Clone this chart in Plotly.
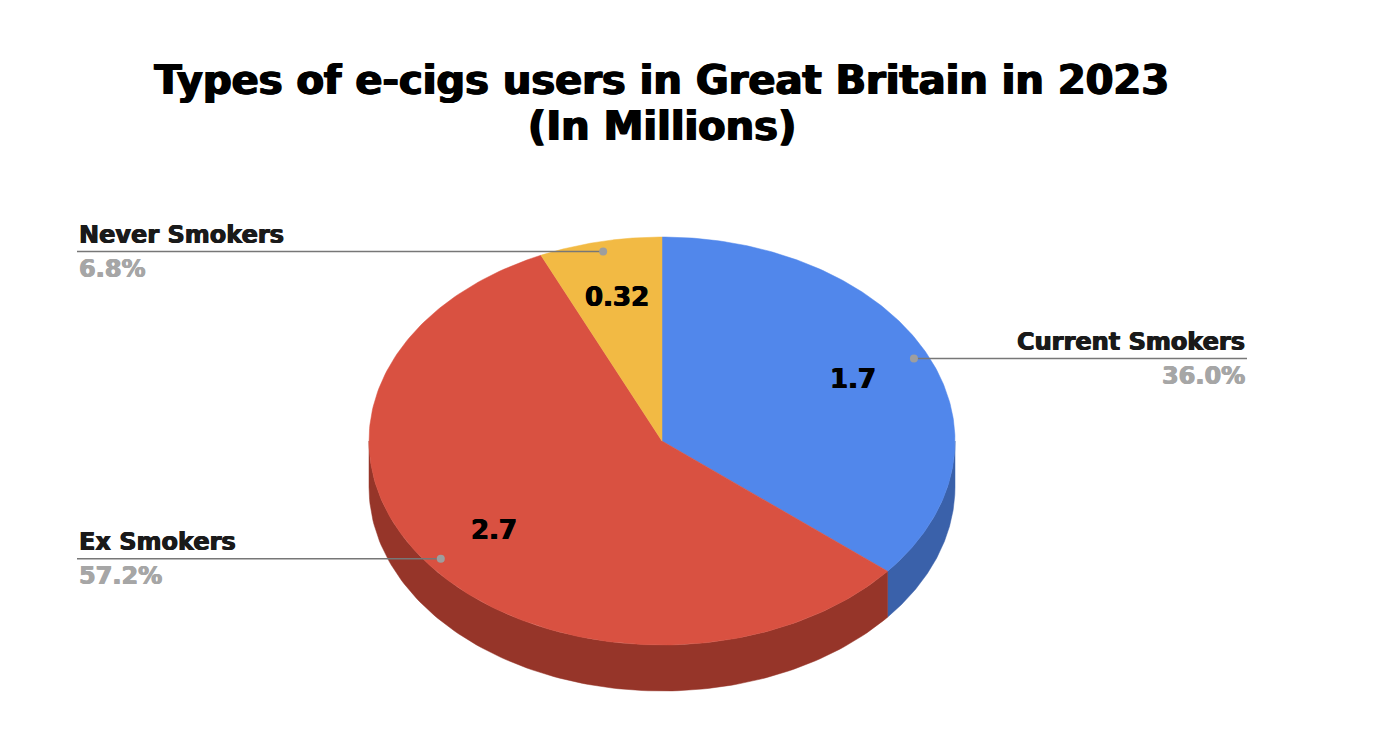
import numpy as np
import plotly.graph_objects as go

# ---- data ----
categories = ["Current Smokers", "Ex Smokers", "Never Smokers"]
values = [1.7, 2.7, 0.32]
value_labels = ["1.7", "2.7", "0.32"]

TOP_COLORS = ["#5187EB", "#D95141", "#F2BA44"]
SIDE_COLORS = ["#3A61AA", "#963529", "#B3862F"]

# ---- 3D pie geometry (pixel space of the page) ----
W, H = 1378, 742
PAD = 8  # body margin of the html page
CX, CY = 662, 441
RX, RY = 293, 204
DEPTH = 46

FONT = "DejaVu Sans"
HEAVY = "0.6px 0 0 {c}, -0.6px 0 0 {c}"
TITLE_SHADOW = "0.9px 0 0 black, -0.9px 0 0 black"

total = sum(values)
fracs = [v / total for v in values]
bounds = np.concatenate([[0], np.cumsum(fracs)]) * 2 * np.pi  # clockwise from 12 o'clock


def ell(theta, f=1.0, dz=0.0):
    return CX + f * RX * np.sin(theta), CY - f * RY * np.cos(theta) + dz


fig = go.Figure()

# side walls first (only the front half, theta in [pi/2, 3pi/2])
for i in range(len(values)):
    a0, a1 = max(bounds[i], np.pi / 2), min(bounds[i + 1], 3 * np.pi / 2)
    if a1 <= a0:
        continue
    t = np.linspace(a0, a1, 120)
    xt, yt = ell(t)
    xb, yb = ell(t[::-1], dz=DEPTH)
    fig.add_trace(go.Scatter(
        x=np.concatenate([xt, xb, xt[:1]]), y=np.concatenate([yt, yb, yt[:1]]),
        mode="lines", fill="toself", fillcolor=SIDE_COLORS[i],
        line=dict(color=SIDE_COLORS[i], width=0.5), hoverinfo="skip", showlegend=False,
    ))

# top faces
for i in range(len(values)):
    t = np.linspace(bounds[i], bounds[i + 1], 200)
    xs, ys = ell(t)
    fig.add_trace(go.Scatter(
        x=np.concatenate([[CX], xs, [CX]]), y=np.concatenate([[CY], ys, [CY]]),
        mode="lines", fill="toself", fillcolor=TOP_COLORS[i],
        line=dict(color=TOP_COLORS[i], width=0.5), hoverinfo="skip", showlegend=False,
    ))

# value labels inside slices, leader lines and outside labels
mids = (bounds[:-1] + bounds[1:]) / 2
annotations = []
for i, cat in enumerate(categories):
    lx, ly = ell(mids[i], f=0.72)
    annotations.append(dict(x=lx, y=ly, text=f"<b>{value_labels[i]}</b>", showarrow=False,
                            font=dict(size=26, color="black", family=FONT,
                                      shadow=HEAVY.format(c="black"))))
    dx, dy = ell(mids[i], f=0.95)
    right = np.sin(mids[i]) > 0
    end_x = 1247 if right else 77
    fig.add_trace(go.Scatter(x=[dx, end_x], y=[dy, dy], mode="lines",
                             line=dict(color="#777777", width=1.5), hoverinfo="skip", showlegend=False))
    fig.add_trace(go.Scatter(x=[dx], y=[dy], mode="markers",
                             marker=dict(color="#9E9E9E", size=8), hoverinfo="skip", showlegend=False))
    anchor = "right" if right else "left"
    annotations.append(dict(x=end_x, y=dy - 1, text=f"<b>{cat}</b>", showarrow=False,
                            xanchor=anchor, yanchor="bottom",
                            font=dict(size=24, color="#1a1a1a", family=FONT,
                                      shadow=HEAVY.format(c="#1a1a1a"))))
    annotations.append(dict(x=end_x, y=dy + 1, text=f"<b>{fracs[i] * 100:.1f}%</b>", showarrow=False,
                            xanchor=anchor, yanchor="top",
                            font=dict(size=24, color="#A6A6A6", family=FONT,
                                      shadow=HEAVY.format(c="#A6A6A6"))))

# second title line, placed separately to keep the tight line spacing
annotations.append(dict(x=662, y=126, text="<b>(In Millions)</b>", showarrow=False,
                        font=dict(size=40, color="black", family=FONT, shadow=TITLE_SHADOW)))

fig.update_layout(
    title=dict(
        text="<b>Types of e-cigs users in Great Britain in 2023</b>",
        x=0.48, xanchor="center", y=1 - (80 - PAD) / (H - 2 * PAD), yanchor="middle",
        font=dict(size=40, color="black", family=FONT, shadow=TITLE_SHADOW),
    ),
    annotations=annotations,
    width=W - 2 * PAD, height=H - 2 * PAD,
    margin=dict(l=0, r=0, t=0, b=0),
    paper_bgcolor="white", plot_bgcolor="white",
    xaxis=dict(range=[PAD, W - PAD], visible=False, fixedrange=True),
    yaxis=dict(range=[H - PAD, PAD], visible=False, fixedrange=True),
)

fig.write_html("out.html")
